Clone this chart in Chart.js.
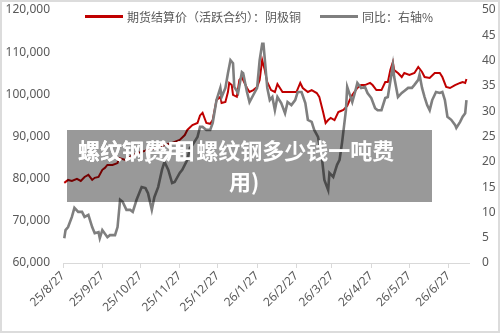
<!DOCTYPE html>
<html><head><meta charset="utf-8">
<script src="https://cdn.jsdelivr.net/npm/chart.js@4.4.1/dist/chart.umd.min.js"></script>
<style>
html,body{margin:0;padding:0;background:#fff;}
#wrap{position:relative;width:500px;height:333px;box-sizing:border-box;border:2px solid #dcdcdc;background:#fff;overflow:hidden;}
canvas{position:absolute;left:0;top:0;}
#legend{position:absolute;left:83px;top:6px;display:flex;align-items:center;font:12px "Noto Sans CJK SC";color:#595959;white-space:nowrap;line-height:17px;}
.item{display:flex;align-items:center;margin-right:19px;}
.sw{display:inline-block;width:38px;height:3px;margin-right:4px;}
#overlay{position:absolute;left:65px;top:128px;width:365px;height:72px;background:rgba(0,0,0,0.4);}
.t{position:absolute;color:#fff;font:bold 22px "Noto Sans CJK SC";line-height:30px;white-space:nowrap;}
</style></head>
<body>
<div id="wrap">
<canvas id="c" width="496" height="329"></canvas>
<div id="legend"></div>
<div id="overlay">
  <span class="t" style="left:11px;top:4px;">螺纹钢(今日螺纹钢多少钱一吨费</span>
  <span class="t" style="left:162px;top:35px;">用)</span>
  <span class="t" style="left:11px;top:4px;">螺纹钢费用</span>
</div>
</div>
<script>
// x positions are days counted from 2025-08-27
const xTickDays   = [0, 31, 61, 92, 122, 153, 184, 212, 243, 273, 304];
const xTickLabels = ['25/8/27','25/9/27','25/10/27','25/11/27','25/12/27','26/1/27','26/2/27','26/3/27','26/4/27','26/5/27','26/6/27'];

const seriesNames = ['期货结算价（活跃合约）：阴极铜', '同比：右轴%'];

const redDays = [1,4,7,11,14,17,20,23,25,28,31,33,35,39,43,44,50,54,61,67,73,80,86,92,96,98,102,106,108,110,113,116,118,121,124,125,128,130,131,133,134,137,139,141,142,145,147,150,153,155,157,159,161,164,167,169,171,173,179,184,187,189,193,196,200,202,205,207,209,211,214,217,219,221,224,226,228,232,235,238,242,244,247,251,254,256,258,260,261,264,267,269,273,277,280,283,285,289,293,297,299,302,305,309,313,315,317,318];
const redValues = [79000,79700,79450,79950,79450,80400,80900,79700,80200,80400,82100,82550,83250,83250,83700,84900,84400,85400,86300,86800,87300,88000,88450,89200,90350,91550,92700,93200,95000,95600,93200,93000,93900,98650,99400,97950,98200,100550,102700,102200,99850,99400,103400,104100,103400,101500,100550,101000,101750,103400,108150,105800,102900,101000,100550,102450,101500,100550,100550,100550,102700,101500,100550,101000,100300,99400,95800,93200,93900,94400,93900,95800,96050,96300,97250,98650,99850,101500,102200,102200,102700,102200,101000,101000,102900,102900,105750,107650,105750,105050,104100,105050,104600,105050,106500,105300,104100,103900,105050,105050,104100,101750,101500,102200,102700,102900,102700,103650];

const yoyDays = [1,2,4,7,9,12,15,17,20,23,25,28,29,31,35,37,41,43,45,47,50,53,55,58,62,65,67,70,72,75,78,80,83,86,88,92,94,98,100,102,106,108,110,113,116,118,121,124,125,128,130,132,134,135,138,141,142,145,147,150,153,155,157,158,160,161,163,165,167,169,172,175,177,180,183,185,188,191,193,196,198,201,204,206,209,210,213,216,218,220,223,224,228,230,232,235,238,240,243,246,248,251,254,256,259,260,261,264,267,269,272,275,277,280,281,283,285,287,289,291,294,297,299,301,303,306,309,310,313,315,317,318];
const yoyValues = [4.9,6.5,7.1,9.1,10.9,10.1,10.1,9.1,9.5,7.1,5.9,6.1,4.9,6.5,5.1,5.5,5.5,7.1,12.5,12.1,10.5,10.5,10.1,12.5,15.0,14.8,13.8,10.5,13.0,15.0,18.4,20.0,18.4,15.8,16.0,17.8,18.4,20.4,22.7,23.3,24.9,26.9,26.9,26.3,26.3,27.7,32.2,34.6,32.8,34.6,37.5,40.1,39.5,34.8,33.6,37.7,37.5,33.8,31.8,33.2,34.6,40.1,43.3,43.3,37.5,34.6,32.2,32.8,30.2,32.8,31.6,29.6,31.8,31.2,32.2,33.8,33.8,31.6,28.3,27.9,26.3,24.9,20.9,16.4,14.4,17.8,17.0,19.4,20.4,23.9,30.2,34.8,31.8,33.6,35.6,34.6,34.8,33.6,32.6,30.6,30.2,30.2,32.6,32.8,37.5,39.1,36.8,32.8,33.6,34.0,34.6,34.6,35.2,36.2,37.2,34.6,32.8,31.2,30.2,32.2,33.8,33.6,33.8,32.2,28.9,28.3,27.3,26.7,27.9,28.9,29.6,32.2];

const leftMin = 60000, leftMax = 120000, leftStep = 10000;
const rightMin = 0, rightMax = 50, rightStep = 5;
const xMin = 0, xMax = 320;

const tickFont = {family: '"Noto Sans", "Liberation Sans", sans-serif', size: 12};
const tickColor = '#595959';

function fixVertical(width) {
  return s => { s.width = width; s.paddingTop = 0; s.paddingBottom = 0; };
}

const chart = new Chart(document.getElementById('c'), {
  type: 'line',
  data: {
    datasets: [
      {
        label: seriesNames[0],
        data: redDays.map((d, i) => ({x: d, y: redValues[i]})),
        borderColor: '#c00000', backgroundColor: '#c00000',
        borderWidth: 2, pointRadius: 0, tension: 0, yAxisID: 'y', order: 1
      },
      {
        label: seriesNames[1],
        data: yoyDays.map((d, i) => ({x: d, y: yoyValues[i]})),
        borderColor: '#7f7f7f', backgroundColor: '#7f7f7f',
        borderWidth: 2.6, pointRadius: 0, tension: 0, yAxisID: 'y1', order: 0
      }
    ]
  },
  options: {
    responsive: false, animation: false, devicePixelRatio: 1,
    layout: {padding: {top: 8, left: 0, right: 0, bottom: 0}},
    plugins: {legend: {display: false}, tooltip: {enabled: false}},
    scales: {
      x: {
        type: 'linear', min: xMin, max: xMax,
        afterBuildTicks: s => { s.ticks = xTickDays.map(v => ({value: v})); },
        afterFit: s => { s.height = 68; },
        ticks: {
          autoSkip: false, maxRotation: 45, minRotation: 45, padding: 1,
          font: tickFont, color: tickColor,
          callback: (v, i) => xTickLabels[i]
        },
        grid: {display: true, drawOnChartArea: false, drawTicks: true, tickLength: 5, color: '#d9d9d9'},
        border: {display: true, color: '#d9d9d9', width: 1}
      },
      y: {
        type: 'linear', position: 'left', min: leftMin, max: leftMax,
        afterFit: fixVertical(61),
        ticks: {stepSize: leftStep, padding: 13, font: tickFont, color: tickColor,
          callback: v => v.toLocaleString('en-US')},
        grid: {display: false, drawTicks: false},
        border: {display: false}
      },
      y1: {
        type: 'linear', position: 'right', min: rightMin, max: rightMax,
        afterFit: fixVertical(29),
        ticks: {stepSize: rightStep, padding: 13, font: tickFont, color: tickColor},
        grid: {display: false, drawTicks: false},
        border: {display: false}
      }
    }
  }
});

// HTML legend built from the datasets
const lg = document.getElementById('legend');
chart.data.datasets.forEach(ds => {
  const it = document.createElement('div'); it.className = 'item';
  const sw = document.createElement('span'); sw.className = 'sw'; sw.style.background = ds.borderColor;
  const tx = document.createElement('span'); tx.textContent = ds.label;
  it.appendChild(sw); it.appendChild(tx); lg.appendChild(it);
});
</script>
</body></html>
